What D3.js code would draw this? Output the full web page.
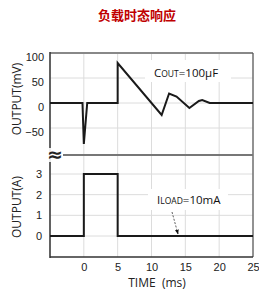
<html lang="zh">
<head>
<meta charset="utf-8">
<title>负载时态响应</title>
<style>
	body {
		margin: 0;
		background-color: white;
		font-family: "Open Sans", "Noto Sans", Arial, sans-serif;
	}
	.tick text {
		font-size: 11px;
		fill: #222;
	}
</style>
</head>
<body>
<div id="chart"></div>
<script src="https://d3js.org/d3.v7.min.js"></script>
<script>

	// output voltage deviation (mV) vs time (ms)
	var mvTime = [-5, -0.2, 0, 0.5, 5, 5, 11.5, 12.6, 13.7, 15.6, 17, 17.5, 18.6, 25];
	var mvValue = [0, 0, -82, 0, 0, 80, -24, 19, 13, -10, 4, 6, 0, 0];

	// load current step (A)
	var ampTime = [-5, 0, 0, 5, 5, 25];
	var ampValue = [0, 0, 3, 3, 0, 0];

	var xTicks = [0, 5, 10, 15, 20, 25];
	var xGrid = [-5, 0, 5, 10, 15, 20, 25];
	var mvTicks = [100, 50, 0, -50];
	var ampTicks = [3, 2, 1, 0];

	var width = 259;
	var height = 292;

	var svg = d3.select("#chart")
		.append("svg")
		.attr("width", width)
		.attr("height", height);

	var x = d3.scaleLinear().domain([-5, 25]).range([50, 253]);
	var yTop = d3.scaleLinear().domain([-50, 100]).range([128, 53]);
	var yBot = d3.scaleLinear().domain([0, 3]).range([236, 174]);

	var breakY = 155;
	var bottomY = 257;

	// title
	svg.append("text")
		.attr("x", 137)
		.attr("y", 20)
		.attr("text-anchor", "middle")
		.attr("font-family", "'Noto Sans CJK SC', sans-serif")
		.attr("font-weight", "bold")
		.attr("font-size", 13)
		.attr("fill", "#c00000")
		.text("负载时态响应");

	// grid
	var grid = svg.append("g").attr("stroke", "#dcdcdc").attr("stroke-width", 1);
	grid.selectAll(".vg")
		.data(xGrid)
		.enter().append("line")
		.attr("x1", function(d){ return x(d); })
		.attr("x2", function(d){ return x(d); })
		.attr("y1", 53)
		.attr("y2", bottomY);
	grid.selectAll(".hg1")
		.data(mvTicks)
		.enter().append("line")
		.attr("x1", 50).attr("x2", 253)
		.attr("y1", function(d){ return yTop(d); })
		.attr("y2", function(d){ return yTop(d); });
	grid.selectAll(".hg2")
		.data(ampTicks)
		.enter().append("line")
		.attr("x1", 50).attr("x2", 253)
		.attr("y1", function(d){ return yBot(d); })
		.attr("y2", function(d){ return yBot(d); });

	// frame
	svg.append("line").attr("x1", 50).attr("x2", 253).attr("y1", 53).attr("y2", 53)
		.attr("stroke", "#888").attr("stroke-width", 2);
	svg.append("line").attr("x1", 253).attr("x2", 253).attr("y1", 53).attr("y2", bottomY)
		.attr("stroke", "#555").attr("stroke-width", 1.2);
	svg.append("line").attr("x1", 63).attr("x2", 253).attr("y1", breakY).attr("y2", breakY)
		.attr("stroke", "#777").attr("stroke-width", 2);
	svg.append("line").attr("x1", 50).attr("x2", 50).attr("y1", 52).attr("y2", 148)
		.attr("stroke", "#333").attr("stroke-width", 1.5);
	svg.append("line").attr("x1", 50).attr("x2", 50).attr("y1", 162).attr("y2", bottomY + 1)
		.attr("stroke", "#333").attr("stroke-width", 1.5);
	svg.append("line").attr("x1", 50).attr("x2", 253).attr("y1", bottomY).attr("y2", bottomY)
		.attr("stroke", "#333").attr("stroke-width", 1.5);

	svg.append("text")
		.attr("x", 55)
		.attr("y", breakY + 6)
		.attr("text-anchor", "middle")
		.attr("font-family", "DejaVu Sans")
		.attr("font-weight", "bold")
		.attr("font-size", 19)
		.attr("fill", "#222")
		.text("≈");

	// axes
	var leftTop = svg.append("g")
		.attr("transform", "translate(50,4)")
		.call(d3.axisLeft(yTop).tickValues(mvTicks).tickSize(0).tickPadding(6));
	leftTop.select(".domain").remove();

	var leftBot = svg.append("g")
		.attr("transform", "translate(50,0)")
		.call(d3.axisLeft(yBot).tickValues(ampTicks).tickFormat(d3.format("d")).tickSize(0).tickPadding(8));
	leftBot.select(".domain").remove();

	var bottom = svg.append("g")
		.attr("transform", "translate(0," + bottomY + ")")
		.call(d3.axisBottom(x).tickValues(xTicks).tickSize(0).tickPadding(6));
	bottom.select(".domain").remove();

	svg.append("text")
		.attr("x", 157)
		.attr("y", 287)
		.attr("text-anchor", "middle")
		.attr("font-size", 12)
		.attr("fill", "#222")
		.attr("xml:space", "preserve")
		.text("TIME  (ms)");

	svg.append("text")
		.attr("transform", "translate(21,99) rotate(-90)")
		.attr("text-anchor", "middle")
		.attr("font-size", 12)
		.attr("fill", "#222")
		.text("OUTPUT(mV)");

	svg.append("text")
		.attr("transform", "translate(21,207) rotate(-90)")
		.attr("text-anchor", "middle")
		.attr("font-size", 12)
		.attr("fill", "#222")
		.text("OUTPUT(A)");

	// annotation boxes (white, hide grid)
	svg.append("rect").attr("x", 145).attr("y", 60).attr("width", 86).attr("height", 22).attr("fill", "white");
	svg.append("rect").attr("x", 148).attr("y", 189).attr("width", 80).attr("height", 21).attr("fill", "white");

	// traces
	var lineMv = d3.line()
		.x(function(d, i){ return x(mvTime[i]); })
		.y(function(d){ return yTop(d); });
	var lineA = d3.line()
		.x(function(d, i){ return x(ampTime[i]); })
		.y(function(d){ return yBot(d); });

	svg.append("path")
		.attr("d", lineMv(mvValue))
		.attr("fill", "none")
		.attr("stroke", "#1a1a1a")
		.attr("stroke-width", 2)
		.attr("stroke-linejoin", "miter");

	svg.append("path")
		.attr("d", lineA(ampValue))
		.attr("fill", "none")
		.attr("stroke", "#1a1a1a")
		.attr("stroke-width", 2);

	// labels
	var cLabel = svg.append("text")
		.attr("x", 154)
		.attr("y", 77)
		.attr("font-size", 11.5)
		.attr("fill", "#111");
	cLabel.append("tspan").text("C");
	cLabel.append("tspan").attr("font-size", 8.5).text("OUT");
	cLabel.append("tspan").text("=100µF");

	var iLabel = svg.append("text")
		.attr("x", 157)
		.attr("y", 204)
		.attr("font-size", 11.5)
		.attr("fill", "#111");
	iLabel.append("tspan").text("I");
	iLabel.append("tspan").attr("font-size", 8.5).text("LOAD");
	iLabel.append("tspan").text("=10mA");

	svg.append("defs").append("marker")
		.attr("id", "arrow")
		.attr("viewBox", "0 0 10 10")
		.attr("refX", 9).attr("refY", 5)
		.attr("markerWidth", 6).attr("markerHeight", 6)
		.attr("orient", "auto")
		.append("path")
		.attr("d", "M0,1L10,5L0,9Z")
		.attr("fill", "#111");

	svg.append("line")
		.attr("x1", 172).attr("y1", 212)
		.attr("x2", 178).attr("y2", 234)
		.attr("stroke", "#333")
		.attr("stroke-width", 0.8)
		.attr("stroke-dasharray", "2,1.5")
		.attr("marker-end", "url(#arrow)");

</script>
</body>
</html>
